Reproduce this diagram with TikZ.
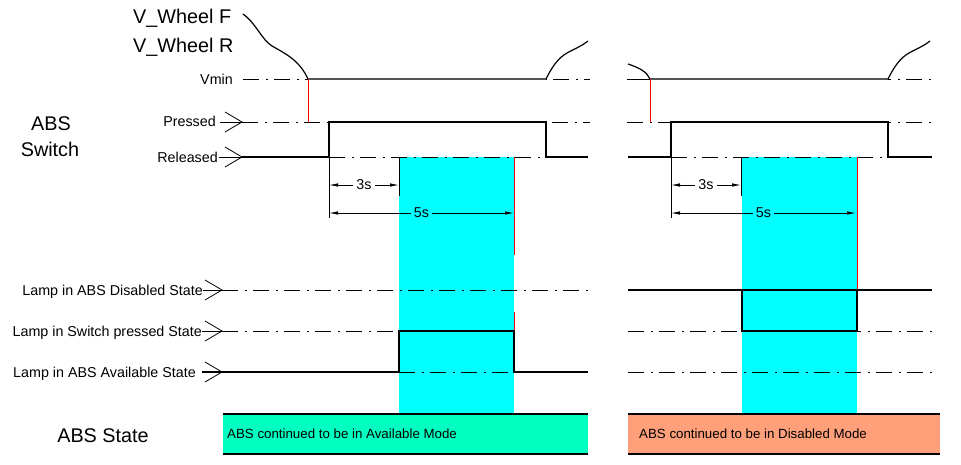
\documentclass[tikz,border=0pt]{standalone}
\usepackage{fontspec}
\setmainfont{Liberation Sans}
\usetikzlibrary{arrows.meta}

\definecolor{bandcyan}{RGB}{0,255,255}
\definecolor{availgreen}{RGB}{0,255,192}
\definecolor{disabledred}{RGB}{255,160,122}
\definecolor{speedgray}{RGB}{85,85,85}

\begin{document}
\begin{tikzpicture}[x=1pt, y=-1pt,
  refline/.style={line width=0.9pt, dash pattern=on 16pt off 7pt on 2pt off 6pt},
  signal/.style={line width=2pt},
  leader/.style={line width=0.8pt},
  redmark/.style={red, line width=1pt},
  speed/.style={line width=1.2pt},
  dimline/.style={line width=0.8pt, {Latex[length=9pt,width=3.5pt]}-{Latex[length=9pt,width=3.5pt]}},
  sigtext/.style={font=\fontsize{14.3}{16}\selectfont, inner sep=0pt},
  headtext/.style={font=\fontsize{19.8}{24}\selectfont, inner sep=0pt},
  statebox/.style={minimum width=#1, minimum height=40pt, inner sep=0pt, anchor=north west}]
\useasboundingbox (0,0) rectangle (961,464);

% time window where the switch is held
\fill[bandcyan] (399,157) rectangle (514,413);
\fill[bandcyan] (742,157) rectangle (857,413);

% headings
\node[headtext, anchor=base west] (wheelf) at (133,23) {V\_Wheel F};
\node[headtext, anchor=base west] (wheelr) at (133,52) {V\_Wheel R};
\node[headtext, anchor=base] (abs) at (51,130) {ABS};
\node[headtext, anchor=base] (switch) at (50,156) {Switch};
\node[headtext, anchor=base] (absstate) at (103,442) {ABS State};

% signal labels
\node[sigtext, anchor=base east] (vmin) at (233,84) {Vmin};
\node[sigtext, anchor=base east] (pressed) at (216,126) {Pressed};
\node[sigtext, anchor=base east] (released) at (218,162) {Released};
\node[sigtext, anchor=base east] (lampdis) at (203,295) {Lamp in ABS Disabled State};
\node[sigtext, anchor=base east] (lampsw) at (202,336) {Lamp in Switch pressed State};
\node[sigtext, anchor=base east] (lampav) at (196,377) {Lamp in ABS Available State};

\coordinate (pressedtip) at (242,122);
\coordinate (releasedtip) at (242,157);
\coordinate (lampdistip) at (222,290);
\coordinate (lampswtip) at (222,331);
\coordinate (lampavtip) at (222,372);

\draw[leader] ([xshift=4pt]pressed.east |- pressedtip) -- (pressedtip);
\draw[leader] ([xshift=1pt]released.east |- releasedtip) -- (releasedtip);
\draw[leader] (lampdis.east |- lampdistip) -- (lampdistip);
\draw[leader] (lampsw.east |- lampswtip) -- (lampswtip);
\draw[leader] ([xshift=6pt]lampav.east |- lampavtip) -- (lampavtip);
\foreach \tip in {pressedtip, releasedtip, lampdistip, lampswtip, lampavtip} {
\draw[leader] ([shift={(-17,-10)}]\tip) -- (\tip) -- ([shift={(-17,10)}]\tip);
}

% reference levels
\draw[refline] (243,79) -- (590,79);
\draw[refline] (pressedtip) -- (590,122);
\draw[refline] (329,157) -- (546,157);
\draw[refline] (lampdistip) -- (590,290);
\draw[refline] (lampswtip) -- (399,331);
\draw[refline] (399,372) -- (514,372);
\draw[refline] (627,79) -- (932,79);
\draw[refline] (627,122) -- (932,122);
\draw[refline] (671,157) -- (888,157);
\draw[refline] (628,331) -- (932,331);
\draw[refline] (628,372) -- (932,372);

% wheel speed
\draw[speed] (243,14) .. controls (255,22) and (262,40) .. (272,46)
  .. controls (290,56) and (300,62) .. (308,79);
\draw[speed] (628,64) .. controls (640,68) and (647,72) .. (650,79);
\draw[line width=1pt] (627,79) -- (650,79);
\foreach \dx in {0,342} {
\draw[speedgray, line width=2pt] (\dx+308,79) -- (\dx+546,79);
\draw[speed] (\dx+546,79) .. controls (\dx+552,67) and (\dx+558,58) .. (\dx+567,53)
  .. controls (\dx+576,48) and (\dx+582,46) .. (\dx+588,41);
\draw[redmark] (\dx+308,79) -- (\dx+308,122);
\draw[leader] (\dx+329,157) -- (\dx+329,218);
\draw[leader] (\dx+399,157) -- (\dx+399,196);
\draw[dimline] (\dx+329,185) -- node[sigtext, fill=white, inner xsep=3pt] (three\dx) {3s} (\dx+399,185);
\draw[dimline] (\dx+329,213) -- node[sigtext, fill=bandcyan, inner xsep=3pt] (five\dx) {5s} (\dx+514,213);
}
\draw[redmark] (514,157) -- (514,255);
\draw[redmark] (514,312) -- (514,331);
\draw[redmark] (857,157) -- (857,290);

% switch and lamps
\draw[signal] (releasedtip) -- (329,157) -- (329,122) -- (546,122) -- (546,157) -- (588,157);
\draw[signal] (628,157) -- (671,157) -- (671,122) -- (888,122) -- (888,157) -- (932,157);
\draw[signal] ([xshift=-20pt]lampavtip) -- (399,372) -- (399,331) -- (514,331) -- (514,372) -- (588,372);
\draw[signal] (628,290) -- (742,290) -- (742,331) -- (857,331) -- (857,290) -- (932,290);
\draw[signal] (742,290) -- (857,290);

% ABS state
\node[statebox=365pt, fill=availgreen] (availbox) at (223,414) {};
\node[statebox=312pt, fill=disabledred] (disbox) at (628,414) {};
\draw[signal] (availbox.north west) -- (availbox.north east) (availbox.south west) -- (availbox.south east);
\draw[signal] (disbox.north west) -- (disbox.north east) (disbox.south west) -- (disbox.south east);
\node[sigtext, font=\fontsize{13.3}{15}\selectfont, anchor=west] (availtext) at ([xshift=4pt]availbox.west) {ABS continued to be in Available Mode};
\node[sigtext, font=\fontsize{13.3}{15}\selectfont, anchor=west] (distext) at ([xshift=11pt]disbox.west) {ABS continued to be in Disabled Mode};
\end{tikzpicture}
\end{document}
